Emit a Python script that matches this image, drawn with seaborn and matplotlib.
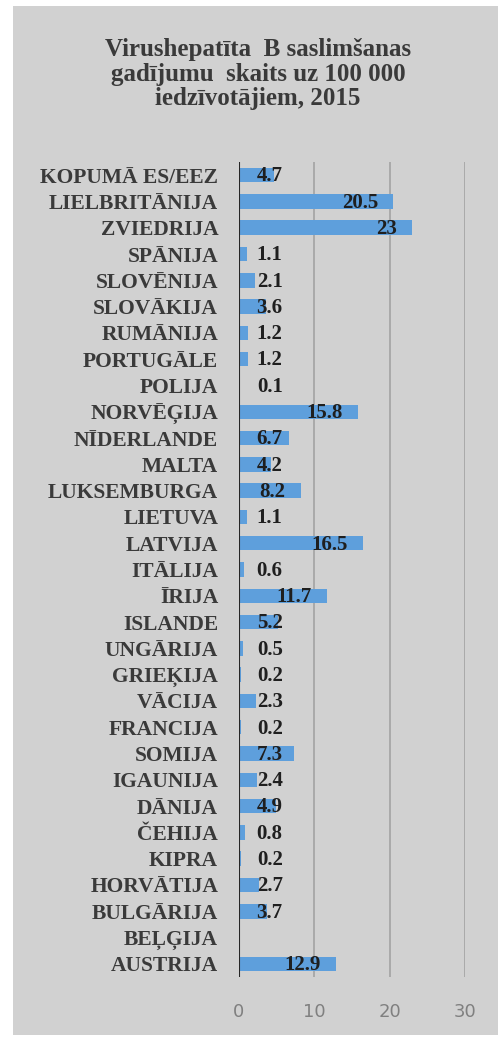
import numpy as np
import pandas as pd
import matplotlib
matplotlib.use("Agg")
import matplotlib.pyplot as plt
from matplotlib.patches import Rectangle
import seaborn as sns

countries = ["KOPUMĀ ES/EEZ", "LIELBRITĀNIJA", "ZVIEDRIJA", "SPĀNIJA", "SLOVĒNIJA",
             "SLOVĀKIJA", "RUMĀNIJA", "PORTUGĀLE", "POLIJA", "NORVĒĢIJA",
             "NĪDERLANDE", "MALTA", "LUKSEMBURGA", "LIETUVA", "LATVIJA",
             "ITĀLIJA", "ĪRIJA", "ISLANDE", "UNGĀRIJA", "GRIEĶIJA",
             "VĀCIJA", "FRANCIJA", "SOMIJA", "IGAUNIJA", "DĀNIJA",
             "ČEHIJA", "KIPRA", "HORVĀTIJA", "BULGĀRIJA", "BEĻĢIJA", "AUSTRIJA"]
values = [4.7, 20.5, 23, 1.1, 2.1,
          3.6, 1.2, 1.2, 0.1, 15.8,
          6.7, 4.2, 8.2, 1.1, 16.5,
          0.6, 11.7, 5.2, 0.5, 0.2,
          2.3, 0.2, 7.3, 2.4, 4.9,
          0.8, 0.2, 2.7, 3.7, np.nan, 12.9]
x_ticks = [0, 10, 20, 30]
title = "Virushepatīta  B saslimšanas\ngadījumu  skaits uz 100 000\niedzīvotājiem, 2015"

df = pd.DataFrame({"country": countries, "value": values})

sns.set_style("white")
plt.rcParams['font.family'] = ['Liberation Serif', 'DejaVu Serif']

bg = "#d1d1d1"
fig = plt.figure(figsize=(4.98, 10.37), dpi=100)
fig.patch.set_facecolor("white")
# grey card behind the chart
card = Rectangle((13 / 498, 1 - 1035 / 1037), 1 - 13 / 498, (1035 - 6) / 1037,
                 transform=fig.transFigure, facecolor=bg, edgecolor="none", zorder=-10)
fig.add_artist(card)

ax = fig.add_axes([239 / 498, 1 - 977 / 1037, (465 - 239) / 498, (977 - 162) / 1037])
ax.set_facecolor("none")
ax.set_zorder(1)

sns.barplot(data=df, x="value", y="country", order=countries, orient="h",
            color="#5e9fdc", width=0.55, saturation=1, linewidth=0, ax=ax, zorder=2)

ax.set_xlim(0, 30)
ax.set_xticks(x_ticks)
ax.set_xlabel("")
ax.set_ylabel("")
for t in x_ticks[1:]:
    ax.axvline(t, color="#a3a3a3", lw=1.2, zorder=1)
ax.axvline(0, color="#262626", lw=1.5, zorder=3)
for s in ax.spines.values():
    s.set_visible(False)

ax.tick_params(axis="x", length=0, pad=19, labelsize=13, labelcolor="#808080")
for lab in ax.get_xticklabels():
    lab.set_family(["DejaVu Sans"])
ax.tick_params(axis="y", length=0, pad=15)
for lab in ax.get_yticklabels():
    lab.set_fontsize(15.5)
    lab.set_fontweight("bold")
    lab.set_color("#3a3a3a")

for i, v in enumerate(values):
    if np.isnan(v):
        continue
    txt = f"{v:g}"
    xpos = max(v - 2.0, 5.8)
    ax.text(xpos, i + 0.05, txt, ha="right", va="center", fontsize=15, fontweight="bold",
            color="#1f1f1f", zorder=4)

fig.text(258 / 498, 1 - 74 / 1037, title, ha="center", va="center", fontsize=18,
         fontweight="bold", color="#3a3a3a", linespacing=1.08)

fig.savefig("out.png", dpi=100)
